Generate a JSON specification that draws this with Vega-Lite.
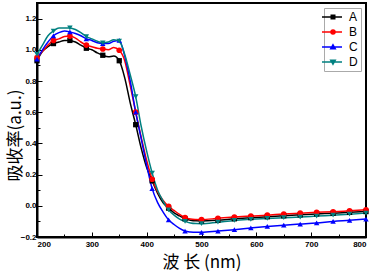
{
  "$schema": "https://vega.github.io/schema/vega-lite/v6.json",
  "width": 329,
  "height": 234,
  "autosize": {"type": "none"},
  "padding": {"left": 37, "top": 3, "right": 8, "bottom": 35},
  "background": "white",
  "config": {
    "view": {"stroke": "black", "strokeWidth": 2},
    "axis": {
      "domain": true, "domainColor": "black", "domainWidth": 2,
      "grid": false,
      "tickColor": "black", "tickWidth": 1,
      "labelFont": "Liberation Sans", "labelFontWeight": "bold", "labelFontSize": 8, "labelColor": "black",
      "titleColor": "black", "titleFont": "Noto Sans CJK SC", "titleFontWeight": "normal"
    }
  },
  "data": {"values": [
    {"nm": 200, "A": 0.93, "B": 0.95, "C": 0.94, "D": 0.97},
    {"nm": 210, "A": 0.99, "B": 0.99, "C": 1.0, "D": 1.03},
    {"nm": 220, "A": 1.02, "B": 1.03, "C": 1.05, "D": 1.09},
    {"nm": 230, "A": 1.04, "B": 1.06, "C": 1.09, "D": 1.12},
    {"nm": 240, "A": 1.05, "B": 1.07, "C": 1.11, "D": 1.14},
    {"nm": 250, "A": 1.06, "B": 1.085, "C": 1.12, "D": 1.14},
    {"nm": 260, "A": 1.06, "B": 1.088, "C": 1.115, "D": 1.14},
    {"nm": 270, "A": 1.05, "B": 1.075, "C": 1.105, "D": 1.13},
    {"nm": 280, "A": 1.03, "B": 1.05, "C": 1.09, "D": 1.11},
    {"nm": 290, "A": 1.01, "B": 1.03, "C": 1.07, "D": 1.085},
    {"nm": 300, "A": 1.0, "B": 1.02, "C": 1.06, "D": 1.07},
    {"nm": 310, "A": 0.98, "B": 1.01, "C": 1.045, "D": 1.055},
    {"nm": 320, "A": 0.965, "B": 1.005, "C": 1.04, "D": 1.045},
    {"nm": 330, "A": 0.955, "B": 1.0, "C": 1.04, "D": 1.05},
    {"nm": 340, "A": 0.96, "B": 1.015, "C": 1.055, "D": 1.065},
    {"nm": 350, "A": 0.93, "B": 0.997, "C": 1.06, "D": 1.055},
    {"nm": 360, "A": 0.82, "B": 0.93, "C": 0.96, "D": 0.97},
    {"nm": 370, "A": 0.66, "B": 0.77, "C": 0.8, "D": 0.84},
    {"nm": 380, "A": 0.52, "B": 0.6, "C": 0.6, "D": 0.7},
    {"nm": 390, "A": 0.37, "B": 0.44, "C": 0.43, "D": 0.51},
    {"nm": 400, "A": 0.245, "B": 0.29, "C": 0.26, "D": 0.35},
    {"nm": 410, "A": 0.16, "B": 0.17, "C": 0.11, "D": 0.21},
    {"nm": 420, "A": 0.08, "B": 0.09, "C": 0.02, "D": 0.1},
    {"nm": 430, "A": 0.02, "B": 0.035, "C": -0.04, "D": 0.03},
    {"nm": 440, "A": -0.015, "B": -0.004, "C": -0.09, "D": -0.026},
    {"nm": 450, "A": -0.045, "B": -0.03, "C": -0.12, "D": -0.06},
    {"nm": 460, "A": -0.065, "B": -0.055, "C": -0.145, "D": -0.085},
    {"nm": 470, "A": -0.083, "B": -0.075, "C": -0.162, "D": -0.1},
    {"nm": 480, "A": -0.092, "B": -0.085, "C": -0.168, "D": -0.11},
    {"nm": 490, "A": -0.096, "B": -0.088, "C": -0.17, "D": -0.114},
    {"nm": 500, "A": -0.097, "B": -0.089, "C": -0.17, "D": -0.115},
    {"nm": 530, "A": -0.092, "B": -0.08, "C": -0.162, "D": -0.105},
    {"nm": 560, "A": -0.083, "B": -0.072, "C": -0.153, "D": -0.094},
    {"nm": 590, "A": -0.076, "B": -0.066, "C": -0.142, "D": -0.087},
    {"nm": 620, "A": -0.07, "B": -0.06, "C": -0.132, "D": -0.081},
    {"nm": 650, "A": -0.064, "B": -0.053, "C": -0.124, "D": -0.076},
    {"nm": 680, "A": -0.058, "B": -0.047, "C": -0.117, "D": -0.072},
    {"nm": 710, "A": -0.052, "B": -0.042, "C": -0.11, "D": -0.066},
    {"nm": 740, "A": -0.048, "B": -0.038, "C": -0.1, "D": -0.06},
    {"nm": 770, "A": -0.042, "B": -0.032, "C": -0.093, "D": -0.054},
    {"nm": 800, "A": -0.037, "B": -0.026, "C": -0.085, "D": -0.047}
  ]},
  "transform": [{"fold": ["A", "B", "C", "D"], "as": ["sample", "absorb"]}],
  "encoding": {
    "x": {
      "field": "nm", "type": "quantitative",
      "scale": {"domain": [200, 800], "nice": false, "zero": false},
      "axis": {
        "values": [200, 250, 300, 350, 400, 450, 500, 550, 600, 650, 700, 750, 800],
        "labelExpr": "datum.value % 100 === 0 ? datum.value : ''",
        "tickSize": {"condition": {"test": "datum.value % 100 === 0", "value": -5}, "value": -3},
        "labelPadding": 8,
        "title": "波 长 (nm)", "titleFontSize": 17, "titlePadding": 6
      }
    },
    "y": {
      "field": "absorb", "type": "quantitative",
      "scale": {"domain": [-0.2, 1.3], "nice": false, "zero": false},
      "axis": {
        "values": [-0.2, -0.1, 0, 0.1, 0.2, 0.3, 0.4, 0.5, 0.6, 0.7, 0.8, 0.9, 1.0, 1.1, 1.2],
        "labelExpr": "round(datum.value * 10) % 2 === 0 ? format(datum.value, '.1f') : ''",
        "tickSize": {"condition": {"test": "round(datum.value * 10) % 2 === 0", "value": -5}, "value": -3},
        "labelPadding": 6,
        "title": "吸收率(a.u.)", "titleFontSize": 17, "titleX": -13, "titleY": 132
      }
    },
    "color": {
      "field": "sample", "type": "nominal",
      "scale": {"domain": ["A", "B", "C", "D"], "range": ["#000000", "#ff0000", "#0000ff", "#008080"]},
      "legend": {
        "title": null, "orient": "top-right", "offset": 5,
        "labelFont": "Liberation Sans", "labelFontSize": 12, "labelColor": "black",
        "strokeColor": "#aaaaaa", "fillColor": "white", "padding": 3,
        "symbolSize": 100, "labelOffset": 10, "rowPadding": 3,
        "encode": {
          "symbols": {"update": {
            "shape": {"signal": "datum.value === 'A' ? 'M-2.2,0H1.8M-0.35,-0.35H0.35V0.35H-0.35Z' : datum.value === 'B' ? 'M-2.2,0H1.8M0.4,0A0.4,0.4 0 1,1 -0.4,0A0.4,0.4 0 1,1 0.4,0Z' : datum.value === 'C' ? 'M-2.2,0H1.8M0,-0.45L0.45,0.35H-0.45Z' : 'M-2.2,0H1.8M0,0.45L0.45,-0.35H-0.45Z'"},
            "fill": {"signal": "scale('color', datum.value)"},
            "stroke": {"signal": "scale('color', datum.value)"},
            "strokeWidth": {"value": 1.5},
            "opacity": {"value": 1}
          }}
        }
      }
    }
  },
  "layer": [
    {"mark": {"type": "line", "strokeWidth": 1.5, "interpolate": "monotone"}},
    {
      "transform": [{"filter": "(datum.nm - 200) % 30 === 0 && datum.sample === 'A'"}],
      "mark": {"type": "point", "filled": true, "opacity": 1, "size": 28, "shape": "square"}
    },
    {
      "transform": [{"filter": "(datum.nm - 200) % 30 === 0 && datum.sample === 'B'"}],
      "mark": {"type": "point", "filled": true, "opacity": 1, "size": 32, "shape": "circle"}
    },
    {
      "transform": [{"filter": "(datum.nm - 200) % 30 === 0 && datum.sample === 'C'"}],
      "mark": {"type": "point", "filled": true, "opacity": 1, "size": 30, "shape": "triangle-up"}
    },
    {
      "transform": [{"filter": "(datum.nm - 200) % 30 === 0 && datum.sample === 'D'"}],
      "mark": {"type": "point", "filled": true, "opacity": 1, "size": 30, "shape": "triangle-down"}
    }
  ]
}
